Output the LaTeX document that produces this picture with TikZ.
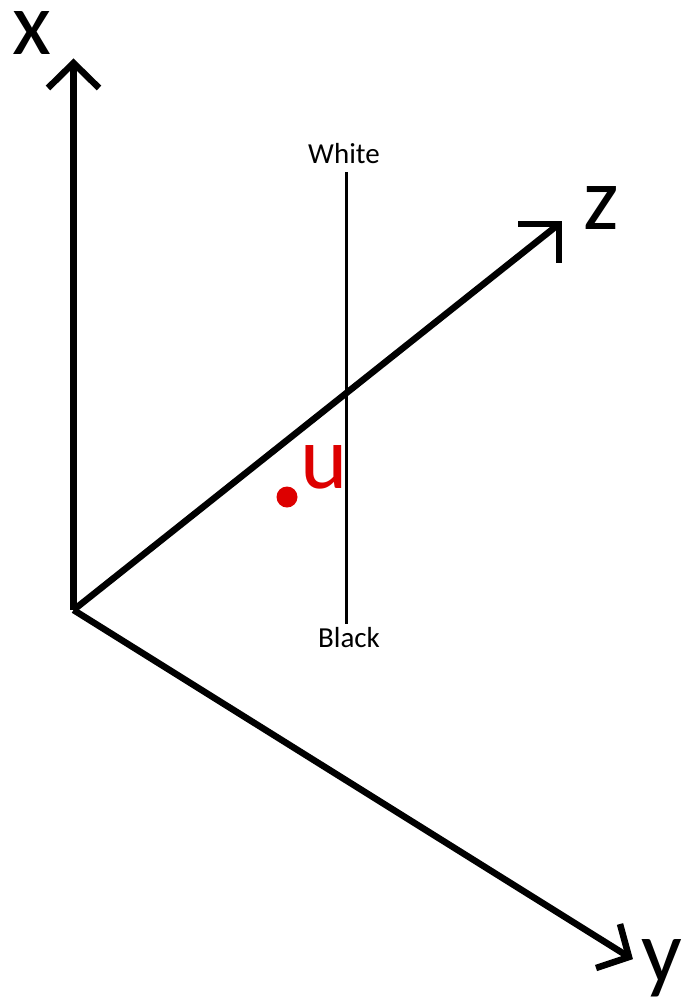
\documentclass[tikz,border=0pt]{standalone}
\usepackage{fontspec}
\setmainfont{Carlito}
\begin{document}
\begin{tikzpicture}[x=1pt,y=-1pt,
  axis/.style={line width=6.5pt, black, line join=miter},
  big/.style={font=\fontsize{90}{90}\selectfont, inner sep=0pt, anchor=base west},
  small/.style={font=\fontsize{29}{29}\selectfont, inner sep=0pt},
]
\useasboundingbox (0,0) rectangle (684,1005);
\coordinate (O) at (73.5,610);
\coordinate (X) at (73.5,63);
\coordinate (Z) at (559,224);
\coordinate (Y) at (629,957);
% axes
\draw[axis] (O) -- (X);
\draw[axis] (O) -- (Z);
\draw[axis] (O) -- (Y);
% arrowheads
\draw[axis] (48,88) -- (X) -- (99,88);
\draw[axis] (518,224) -- (Z) -- (559,263);
\draw[axis] (620,924) -- (Y) -- (596,968);
% axis labels
\node[big] (lx) at (12,54) {x};
\node[big] (lz) at (583,229) {z};
\node[big] (ly) at (641,982) {y};
% white/black line
\node[small, anchor=base] (W) at (344,163) {White};
\node[small, anchor=base] (B) at (349,647) {Black};
\coordinate (top) at (346.5,172);
\coordinate (bot) at (346.5,624);
\draw[line width=3pt] (top) -- (bot);
% point u
\fill[red!85!black!90!red] (287,497) circle (10.5pt);
\node[big, text=red!85!black!90!red] (u) at (300,488) {u};
\end{tikzpicture}
\end{document}
